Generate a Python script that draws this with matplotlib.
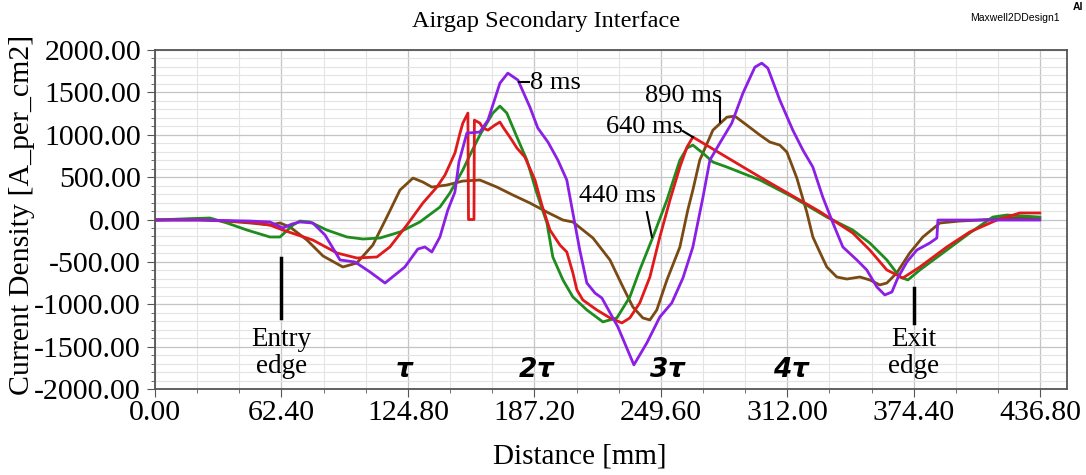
import numpy as np
import matplotlib
matplotlib.use('Agg')
import matplotlib.pyplot as plt
from matplotlib.ticker import MultipleLocator, FormatStrFormatter

plt.rcParams['font.family'] = ['Liberation Serif', 'DejaVu Serif']

# 8 ms
x_8 = [0, 22.2, 46.9, 56.7, 63.1, 67.6, 71.5, 77.9, 83.9, 91.3, 98.7, 106.1, 113.5, 123.3,
       129.7, 133.2, 136.6, 140.6, 144.5, 148.0, 150.0, 153.9, 160.3, 164.3, 170.2, 174.1,
       179.1, 185.0, 188.9, 193.9, 198.8, 203.2, 206.2, 209.6, 213.1, 217.1, 220.5, 228.4,
       236.3, 242.7, 249.1, 255.0, 260.5, 265.4, 270.3, 273.8, 278.7, 284.6, 290.1, 296.0,
       299.4, 302.4, 308.3, 314.7, 319.7, 324.6, 329.5, 334.5, 339.4, 346.3, 351.2, 356.2,
       360.1, 363.6, 366.5, 371.0, 375.9, 382.3, 385.8, 386.3, 436.6]
y_8 = [-6, -6, -18, -29, -100, -53, -29, -41, -183, -477, -501, -619, -749, -560,
       -348, -324, -383, -206, 112, 324, 680, 1020, 1032, 1173, 1609, 1727,
       1645, 1326, 1079, 914, 701, 466, 77, -360, -749, -867, -926, -1267,
       -1715, -1456, -1150, -984, -690, -324, 253, 701, 902, 1137, 1491, 1798,
       1845, 1786, 1409, 1055, 819, 619, 265, -41, -324, -477, -595, -796,
       -890, -855, -690, -501, -360, -277, -218, -6, -6]

# 440 ms
x_440 = [0, 12.3, 27.1, 35.5, 45.4, 56.7, 61.7, 68.1, 71.5, 76.5, 84.8, 94.7, 102.6, 111.0,
         120.9, 130.7, 140.6, 145.5, 151.9, 155.4, 160.3, 166.7, 170.2, 173.6, 178.6, 183.5,
         188.4, 193.4, 196.3, 201.3, 206.2, 213.1, 221.0, 227.9, 234.3, 239.2, 245.7, 252.6,
         259.0, 262.5, 265.4, 270.3, 275.3, 282.2, 298.5, 314.7, 331.5, 344.3, 352.7, 361.1,
         367.5, 371.5, 377.4, 390.7, 402.0, 413.4, 420.3, 436.6]
y_440 = [-6, 6, 18, -41, -124, -206, -206, -65, -18, -29, -124, -206, -230, -218,
         -147, -29, 147, 312, 584, 760, 996, 1256, 1338, 1256, 973, 701,
         312, -41, -442, -713, -914, -1067, -1208, -1161, -914, -595, -206, 230,
         701, 843, 878, 784, 678, 619, 466, 265, 29, -124, -277, -477,
         -678, -713, -595, -360, -159, 29, 53, 29]

# 640 ms
x_640 = [0, 22.2, 46.9, 56.7, 63.1, 77.9, 89.8, 99.6, 109.5, 115.9, 124.3, 132.2, 139.1,
         143.1, 148.0, 150.5, 151.9, 154.4, 154.7, 157.4, 157.6, 160.3, 161.8, 164.3, 167.7,
         170.2, 171.7, 175.1, 178.6, 182.5, 187.5, 190.9, 194.9, 199.8, 203.2, 206.2, 208.2,
         211.1, 218.0, 224.5, 230.4, 234.3, 239.2, 244.2, 249.1, 254.1, 259.0, 262.5, 265.4,
         298.5, 328.0, 344.3, 352.7, 361.1, 369.0, 377.4, 390.7, 402.0, 415.4, 426.7, 436.6]
y_640 = [-6, -6, -29, -65, -124, -242, -395, -454, -442, -324, -65, 195, 383,
         525, 784, 1020, 1137, 1256, 0, 0, 1173, 1138, 1079, 1055, 1114,
         1150, 1091, 973, 843, 737, 466, 171, -124, -301, -383, -631, -831,
         -949, -1067, -1161, -1220, -1161, -984, -678, -206, 230, 619, 855, 973,
         501, 94, -159, -360, -595, -690, -560, -324, -147, -6, 77, 77]

# 890 ms
x_890 = [0, 22.2, 46.9, 56.7, 61.7, 66.6, 75.0, 82.9, 92.7, 99.6, 107.5, 114.4, 120.9, 127.3,
         132.2, 136.6, 144.0, 151.9, 160.3, 168.7, 176.6, 185.0, 193.4, 201.3, 206.2, 216.1,
         224.5, 230.9, 235.8, 240.7, 244.2, 247.6, 252.6, 259.0, 262.9, 265.4, 268.8, 275.3,
         282.2, 286.1, 292.0, 298.5, 303.4, 308.3, 311.8, 316.7, 321.6, 324.6, 328.0, 331.5,
         336.4, 341.4, 347.8, 352.7, 357.6, 361.1, 366.0, 372.4, 378.9, 387.3, 397.1, 407.0,
         420.3, 436.6]
y_890 = [-6, 6, -41, -65, -41, -88, -242, -430, -560, -513, -301, 29, 348, 489,
         442, 383, 407, 454, 466, 383, 289, 195, 88, -6, -29, -218,
         -477, -796, -1032, -1161, -1185, -1067, -713, -324, 112, 348, 701, 1055,
         1208, 1220, 1114, 996, 914, 878, 796, 489, 88, -206, -383, -560,
         -678, -702, -678, -713, -772, -749, -631, -395, -206, -41, -18, -6,
         18, 18]

x_ticks = [0.00, 62.40, 124.80, 187.20, 249.60, 312.00, 374.40, 436.80]
pole_labels = ['$\\boldsymbol{\\tau}$', '2$\\boldsymbol{\\tau}$', '3$\\boldsymbol{\\tau}$', '4$\\boldsymbol{\\tau}$']
pole_x = [123.3, 188.4, 253.0, 314.2]

fig = plt.figure(figsize=(10.86, 4.75), dpi=100)
ax = fig.add_axes([0.1427, 0.181, 0.8398, 0.7137])

ax.plot(x_890, y_890, color='#7A4A14', linewidth=2)
ax.plot(x_440, y_440, color='#1E8C1E', linewidth=2)
ax.plot(x_640, y_640, color='#E0191B', linewidth=2)
ax.plot(x_8, y_8, color='#8B1FE6', linewidth=2)

ax.set_xlim(0, 450)
ax.set_ylim(-2000, 2000)
ax.set_xticks(x_ticks)
ax.xaxis.set_minor_locator(MultipleLocator(20.8))
ax.yaxis.set_major_locator(MultipleLocator(500))
ax.yaxis.set_minor_locator(MultipleLocator(100))
ax.xaxis.set_major_formatter(FormatStrFormatter('%.2f'))
ax.yaxis.set_major_formatter(FormatStrFormatter('%.2f'))
ax.tick_params(which='major', labelsize=21.5, length=6, color='#555555', pad=2)
ax.tick_params(axis='y', which='major', pad=4)
ax.tick_params(which='minor', length=3, color='#555555')

ax.grid(which='major', color='#c4c4c4', linewidth=0.9)
ax.grid(which='minor', color='#e4e4e4', linewidth=0.8)
ax.set_axisbelow(True)
for s in ax.spines.values():
    s.set_color('#555555')
    s.set_linewidth(1.3)

# edge markers
ax.plot([62.4, 62.4], [-454, -1161], color='black', linewidth=2.5)
ax.plot([374.4, 374.4], [-808, -1220], color='black', linewidth=2.5)
ax.text(62.4, -1580, 'Entry\nedge', ha='center', va='center', fontsize=19.5, linespacing=1.1)
ax.text(374.4, -1580, 'Exit\nedge', ha='center', va='center', fontsize=19.5, linespacing=1.1)

for lbl, px in zip(pole_labels, pole_x):
    ax.text(px, -1774, lbl, ha='center', va='center', fontsize=19,
            family=['DejaVu Sans'], style='italic', weight='bold')

# time labels
ax.plot([179.6, 184.5], [1621, 1621], color='black', linewidth=1.5)
ax.text(185.0, 1609, '8 ms', ha='left', va='center', fontsize=19)
ax.plot([278.7, 278.7], [1409, 1150], color='black', linewidth=1.5)
ax.text(280.0, 1456, '890 ms', ha='right', va='center', fontsize=19)
ax.plot([260.5, 265.4], [1043, 973], color='black', linewidth=1.5)
ax.text(260.5, 1091, '640 ms', ha='right', va='center', fontsize=19)
ax.plot([242.7, 245.2], [88, -206], color='black', linewidth=1.5)
ax.text(228.2, 277, '440 ms', ha='center', va='center', fontsize=19)

fig.text(0.503, 0.954, 'Airgap Secondary Interface', ha='center', va='center', fontsize=17.5)
fig.text(0.534, 0.04, 'Distance [mm]', ha='center', va='center', fontsize=21)
fig.text(0.02, 0.547, 'Current Density [A_per_cm2]', ha='center', va='center',
         rotation=90, fontsize=21.5)
fig.text(0.935, 0.962, 'Maxwell2DDesign1', ha='center', va='center', fontsize=7.5,
         family=['Liberation Sans'])
fig.text(0.988, 0.995, 'Al', ha='left', va='top', fontsize=7.5, family=['Liberation Sans'],
         weight='bold')

fig.savefig('out.png', dpi=100)
